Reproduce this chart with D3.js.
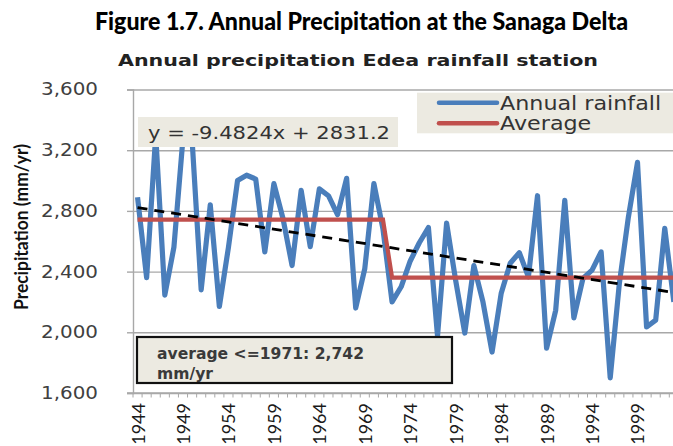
<!DOCTYPE html>
<html><head><meta charset="utf-8">
<script src="https://cdn.jsdelivr.net/npm/d3@7"></script>
<style>body{margin:0;background:#fff;overflow:hidden}</style>
</head><body><svg id="c" width="673" height="446"></svg>
<script>
// ---- data ----
const years = [1944,1945,1946,1947,1948,1949,1950,1951,1952,1953,1954,1955,1956,1957,1958,1959,1960,1961,1962,1963,
  1964,1965,1966,1967,1968,1969,1970,1971,1972,1973,1974,1975,1976,1977,1978,1979,1980,1981,1982,1983,
  1984,1985,1986,1987,1988,1989,1990,1991,1992,1993,1994,1995,1996,1997,1998,1999,2000,2001,2002,2003];
const rainfall = [2890,2360,3300,2245,2560,3280,3270,2280,2840,2170,2560,3000,3035,3010,2530,2980,2750,2440,2935,2565,
  2945,2900,2775,3015,2160,2420,2980,2680,2200,2300,2470,2590,2690,1975,2720,2340,1995,2440,2200,1870,
  2255,2455,2525,2365,2900,1895,2145,2870,2095,2355,2410,2530,1700,2320,2760,3120,2035,2080,2685,2200];
const averageSegments = [{from:1944, to:1971, value:2742}, {from:1972, to:2003, value:2360}];
const trendSlope = -9.4824, trendIntercept = 2831.2;
const yTicks = [1600,2000,2400,2800,3200,3600];
const xLabelYears = [1944,1949,1954,1959,1964,1969,1974,1979,1984,1989,1994,1999];
const titleText = "Figure 1.7. Annual Precipitation at the Sanaga Delta";
const subtitleText = "Annual  precipitation Edea rainfall station";
const yAxisTitle = "Precipitation (mm/yr)";
const legendLabels = ["Annual rainfall", "Average"];
const equationText = "y = -9.4824x + 2831.2";
const noteLines = ["average <=1971: 2,742", "mm/yr"];

// ---- layout ----
const svg = d3.select("#c");
const plotL = 133, plotR = 133 + years.length * 9.09, plotT = 89.5, plotB = 393;
const blue = "#4A7EBB", red = "#C0504D", grid = "#A8A8A8", boxFill = "#ECEAE1";
const STRETCH = 1.17;
function stretch(sel, f) { sel.each(function(){ const w=this.getComputedTextLength(); d3.select(this).attr("textLength", w*f).attr("lengthAdjust","spacingAndGlyphs"); }); }

svg.append("rect").attr("width",673).attr("height",446).attr("fill","#fff");

const x = d3.scalePoint().domain(years).range([plotL, plotR]).padding(0.5);
const step = x.step();
const y = d3.scaleLinear().domain([1600,3600]).range([plotB, plotT]);

// titles
svg.append("text").attr("x",361.5).attr("y",30).attr("text-anchor","middle")
  .attr("font-family","Lato, 'Open Sans', sans-serif").attr("font-weight","900").attr("font-size",25)
  .attr("fill","#000").attr("textLength",533).attr("lengthAdjust","spacingAndGlyphs").text(titleText);
svg.append("text").attr("x",358).attr("y",66).attr("text-anchor","middle")
  .attr("font-family","'DejaVu Sans', sans-serif").attr("font-weight","bold").attr("font-size",16)
  .attr("fill","#222").attr("textLength",480).attr("lengthAdjust","spacingAndGlyphs").text(subtitleText);

// grid
const gGrid = svg.append("g").attr("transform",`translate(${plotL},0)`)
  .call(d3.axisLeft(y).tickValues(yTicks).tickSize(-(673 - plotL)).tickFormat(""));
gGrid.select(".domain").remove();
gGrid.selectAll(".tick line").attr("stroke",grid).attr("stroke-width",1.4);

// y axis
const gY = svg.append("g").attr("transform",`translate(${plotL},0)`)
  .call(d3.axisLeft(y).tickValues(yTicks).tickSize(6).tickPadding(29).tickFormat(d3.format(",")));
gY.select(".domain").attr("stroke",grid).attr("stroke-width",1.4);
gY.selectAll(".tick line").attr("stroke",grid).attr("stroke-width",1.4);
gY.selectAll(".tick text").attr("font-family","'DejaVu Sans', sans-serif").attr("font-size",17).attr("fill","#404040");
stretch(gY.selectAll(".tick text"), STRETCH);

svg.append("text").attr("transform","translate(28,227) rotate(-90)").attr("text-anchor","middle")
  .attr("font-family","Lato, 'Open Sans', sans-serif").attr("font-weight","bold").attr("font-size",19.5)
  .attr("fill","#111").attr("textLength",166).attr("lengthAdjust","spacingAndGlyphs").text(yAxisTitle);

// x axis
const gX = svg.append("g").attr("transform",`translate(0,${plotB})`)
  .call(d3.axisBottom(x).tickValues(xLabelYears).tickSize(0));
gX.select(".domain").remove();
gX.selectAll(".tick text").attr("transform","rotate(-90)").attr("text-anchor","end")
  .attr("x",-10).attr("y",0).attr("dy","0.36em")
  .attr("font-family","Lato, 'Open Sans', sans-serif").attr("font-size",18).attr("fill","#1a1a1a");
svg.append("line").attr("x1",plotL-6).attr("x2",673).attr("y1",plotB).attr("y2",plotB).attr("stroke",grid).attr("stroke-width",1.4);
svg.append("g").selectAll("line").data(years).join("line")
  .attr("x1",d=>x(d)-step/2).attr("x2",d=>x(d)-step/2).attr("y1",plotB).attr("y2",plotB+4.5)
  .attr("stroke",grid).attr("stroke-width",1);

// series
svg.append("clipPath").attr("id","pc").append("rect")
  .attr("x",plotL).attr("y",plotT-10).attr("width",700).attr("height",plotB-plotT+10);
const series = svg.append("g").attr("clip-path","url(#pc)");
const line = d3.line().x(d=>x(d[0])).y(d=>y(d[1]));
series.append("path").datum(years.map((yr,i)=>[yr,rainfall[i]]))
  .attr("d",line).attr("fill","none").attr("stroke",blue).attr("stroke-width",5.2).attr("stroke-linejoin","round");
const avgPts = [];
averageSegments.forEach(s => { avgPts.push([s.from,s.value]); avgPts.push([s.to,s.value]); });
series.append("path").datum(avgPts).attr("d",line).attr("fill","none").attr("stroke",red).attr("stroke-width",4.2);
const trendPts = [years[0], years[years.length-1]].map(yr => [yr, trendSlope*(yr-years[0]+1)+trendIntercept]);
series.append("path").datum(trendPts).attr("d",line).attr("fill","none").attr("stroke","#000")
  .attr("stroke-width",2.8).attr("stroke-dasharray","10,7");

// equation label
svg.append("rect").attr("x",138).attr("y",117).attr("width",260).attr("height",30).attr("fill",boxFill);
svg.append("text").attr("x",148).attr("y",139)
  .attr("font-family","'DejaVu Sans', sans-serif").attr("font-size",17.5).attr("fill","#333").attr("textLength",242)
  .attr("lengthAdjust","spacingAndGlyphs").text(equationText);

// legend
svg.append("rect").attr("x",417).attr("y",92.7).attr("width",270).attr("height",40.6).attr("fill",boxFill);
const lg = svg.append("g");
[blue, red].forEach((c,i) => {
  lg.append("line").attr("x1",439).attr("x2",497).attr("y1",102.7+i*20.6).attr("y2",102.7+i*20.6)
    .attr("stroke",c).attr("stroke-width",4.5).attr("stroke-linecap","round");
  const t = lg.append("text").attr("x",500).attr("y",109.5+i*20.6)
    .attr("font-family","'DejaVu Sans', sans-serif").attr("font-size",19).attr("fill","#333").text(legendLabels[i]);
  stretch(t, STRETCH);
});

// note box
svg.append("rect").attr("x",137).attr("y",337).attr("width",315).attr("height",46)
  .attr("fill",boxFill).attr("stroke","#111").attr("stroke-width",2.2);
const noteFactor = [];
noteLines.forEach((s,i) => {
  const t = svg.append("text").attr("x",157).attr("y",359+i*19.5)
    .attr("font-family","'DejaVu Sans', sans-serif").attr("font-weight","bold").attr("font-size",15.5).attr("fill","#3a3a3a").text(s);
  if (i === 0) noteFactor.push(207 / t.node().getComputedTextLength());
  stretch(t, noteFactor[0]);
});
</script></body></html>
